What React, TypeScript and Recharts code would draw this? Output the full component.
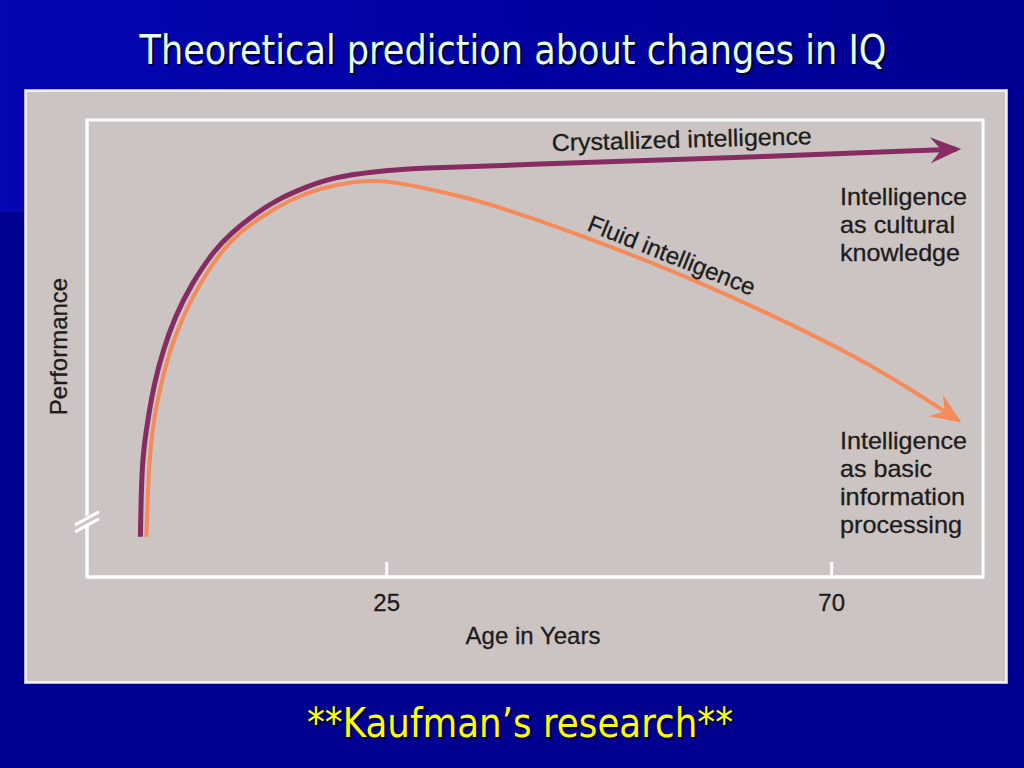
import React from "react";
import { LineChart, Line, XAxis, YAxis, ReferenceArea, ReferenceDot } from "recharts";

// x axis: age in years (frame spans roughly -5 .. 85), y axis: performance 0..100 (arbitrary)
const AGE_MIN = -5.3;
const AGE_MAX = 85.3;
const AGE_TICKS = [25, 70];
const PERF_MIN = 0;
const PERF_MAX = 100;
const BREAK_AT = 12.5;

const crystAge = [0.1, 0.2, 0.4, 0.9, 1.5, 2.4, 3.6, 5.3, 7.6, 9.3, 11.3, 13.8, 16.9, 19.5, 23.6, 28.3, 38.4, 56.7, 82.6];
const crystPerf = [8.8, 20.6, 27.8, 35.1, 42.4, 49.7, 57.0, 64.3, 71.6, 75.3, 78.8, 82.5, 85.4, 87.4, 88.7, 89.5, 90.2, 91.5, 93.6];

const fluidAge = [0.7, 0.9, 1.1, 1.5, 2.2, 3.1, 4.4, 6.1, 8.4, 10.1, 12.3, 15.2, 18.2, 21.6, 24.3, 28.3, 33.4, 38.4, 51.4, 63.0, 74.6, 82.7];
const fluidPerf = [8.8, 20.6, 27.8, 35.1, 42.4, 49.7, 57.0, 64.3, 71.6, 75.3, 78.8, 82.5, 85.1, 86.5, 86.9, 85.4, 82.9, 79.6, 69.4, 58.4, 46.0, 34.4];

const crystData = crystAge.map((age, i) => ({ age, v: crystPerf[i] }));
const fluidData = fluidAge.map((age, i) => ({ age, v: fluidPerf[i] }));

const PURPLE = "#872b63";
const ORANGE = "#f58b5b";
const INK = "#1c1c1c";
const SANS = "'Liberation Sans', Arial, Helvetica, sans-serif";

function AgeTick(props: any) {
  const { x, y, payload } = props;
  return (
    <g>
      <line x1={x} y1={y} x2={x} y2={y - 15} stroke="#fff" strokeWidth={3} />
      <text x={x} y={y + 34} textAnchor="middle" fontSize={24} fill={INK} stroke={INK} strokeWidth={0.3} fontFamily={SANS}>
        {payload.value}
      </text>
    </g>
  );
}

function AxisBreak(props: any) {
  const { cx, cy } = props;
  return (
    <g>
      <polygon
        points={`${cx - 5},${cy + 7} ${cx + 5},${cy + 2} ${cx + 5},${cy - 7} ${cx - 5},${cy - 2}`}
        fill="#ccc4c2"
      />
      <line x1={cx - 12} y1={cy + 5} x2={cx + 12} y2={cy - 8} stroke="#fff" strokeWidth={3} />
      <line x1={cx - 12} y1={cy + 12} x2={cx + 12} y2={cy - 1} stroke="#fff" strokeWidth={3} />
    </g>
  );
}

export default function App() {
  return (
    <div
      style={{
        position: "absolute",
        left: 0,
        top: 0,
        width: 1024,
        height: 768,
        overflow: "hidden",
        background: "#000090",
      }}
    >
      <div
        style={{
          position: "absolute",
          left: 0,
          top: 0,
          width: 1024,
          height: 212,
          background: "linear-gradient(to right, #0606b2 0%, #0202a4 40%, #000092 100%)",
        }}
      />
      <div
        style={{
          position: "absolute",
          left: 24,
          top: 89,
          width: 982,
          height: 593,
          background: "#ccc4c2",
          border: "1px solid #b0b0e6",
          boxShadow: "inset 0 0 0 2px #f3efef",
        }}
      />

      <svg width={0} height={0} style={{ position: "absolute" }}>
        <defs>
          <marker
            id="arrowPurple"
            viewBox="-32 -14 33 28"
            refX={-5}
            refY={0}
            markerWidth={33}
            markerHeight={28}
            markerUnits="userSpaceOnUse"
            orient="auto"
            overflow="visible"
          >
            <path d="M0,0 L-31,-13 L-20,0 L-31,13 Z" fill={PURPLE} />
          </marker>
          <marker
            id="arrowOrange"
            viewBox="-32 -14 33 28"
            refX={-5}
            refY={0}
            markerWidth={33}
            markerHeight={28}
            markerUnits="userSpaceOnUse"
            orient="auto"
            overflow="visible"
          >
            <path d="M0,0 L-31,-13 L-20,0 L-31,13 Z" fill={ORANGE} />
          </marker>
        </defs>
      </svg>

      <div style={{ position: "absolute", left: 0, top: 0 }}>
        <LineChart width={1024} height={768} margin={{ top: 120, right: 41, bottom: 111, left: 27 }}>
          <XAxis
            dataKey="age"
            type="number"
            domain={[AGE_MIN, AGE_MAX]}
            ticks={AGE_TICKS}
            height={80}
            axisLine={{ stroke: "#fff", strokeWidth: 3 }}
            tickLine={false}
            tickSize={0}
            tickMargin={0}
            tick={<AgeTick />}
            label={(p: any) => {
              const vb = p.viewBox;
              return (
                <text
                  x={vb.x + vb.width / 2 - 2}
                  y={vb.y + 67}
                  textAnchor="middle"
                  fontSize={24}
                  fill={INK}
                  stroke={INK}
                  strokeWidth={0.3}
                  fontFamily={SANS}
                >
                  Age in Years
                </text>
              );
            }}
          />
          <YAxis
            type="number"
            domain={[PERF_MIN, PERF_MAX]}
            width={60}
            axisLine={{ stroke: "#fff", strokeWidth: 3 }}
            tick={false}
            tickLine={false}
            label={(p: any) => {
              const vb = p.viewBox;
              const cx = vb.x + 31;
              const cy = vb.y + vb.height / 2 - 2;
              return (
                <text
                  x={cx}
                  y={cy}
                  transform={`rotate(-90, ${cx}, ${cy})`}
                  textAnchor="middle"
                  dominantBaseline="central"
                  fontSize={24}
                  fill={INK}
                  stroke={INK}
                  strokeWidth={0.3}
                  fontFamily={SANS}
                >
                  Performance
                </text>
              );
            }}
          />
          <ReferenceArea
            x1={AGE_MIN}
            x2={AGE_MAX}
            y1={PERF_MIN}
            y2={PERF_MAX}
            fill="none"
            stroke="#fff"
            strokeWidth={3}
          />
          <ReferenceDot x={AGE_MIN} y={BREAK_AT} r={0} shape={<AxisBreak />} />
          <Line
            data={crystData}
            dataKey="v"
            type="basis"
            stroke={PURPLE}
            strokeWidth={5}
            dot={false}
            activeDot={false}
            markerEnd="url(#arrowPurple)"
            isAnimationActive={false}
          />
          <Line
            data={fluidData}
            dataKey="v"
            type="basis"
            stroke={ORANGE}
            strokeWidth={4}
            dot={false}
            activeDot={false}
            markerEnd="url(#arrowOrange)"
            isAnimationActive={false}
          />
        </LineChart>
      </div>

      <svg
        width={1024}
        height={768}
        style={{ position: "absolute", left: 0, top: 0, pointerEvents: "none" }}
      >
        <text x={515} y={66} textAnchor="middle" fontSize={40} fontFamily="'DejaVu Sans', Tahoma, sans-serif" fill="#00002a" textLength={747} lengthAdjust="spacingAndGlyphs">
          Theoretical prediction about changes in IQ
        </text>
        <text x={513} y={64} textAnchor="middle" fontSize={40} fontFamily="'DejaVu Sans', Tahoma, sans-serif" fill="#e4ffff" textLength={747} lengthAdjust="spacingAndGlyphs">
          Theoretical prediction about changes in IQ
        </text>

        <text x={522} y={739} textAnchor="middle" fontSize={40} fontFamily="'DejaVu Sans', Tahoma, sans-serif" fill="#00002a" textLength={426} lengthAdjust="spacingAndGlyphs">
          **Kaufman’s research**
        </text>
        <text x={520} y={737} textAnchor="middle" fontSize={40} fontFamily="'DejaVu Sans', Tahoma, sans-serif" fill="#ffff00" textLength={426} lengthAdjust="spacingAndGlyphs">
          **Kaufman’s research**
        </text>

        <g fontFamily={SANS} fontSize={24} fill={INK} stroke={INK} strokeWidth={0.3}>
          <text x={552} y={151} transform="rotate(-1.5, 552, 151)" textLength={260} lengthAdjust="spacingAndGlyphs">
            Crystallized intelligence
          </text>
          <text x={586} y={230} transform="rotate(21.7, 586, 230)" textLength={178} lengthAdjust="spacingAndGlyphs">
            Fluid intelligence
          </text>

          <text x={840} y={205} textLength={127} lengthAdjust="spacingAndGlyphs">Intelligence</text>
          <text x={840} y={233} textLength={115} lengthAdjust="spacingAndGlyphs">as cultural</text>
          <text x={840} y={261} textLength={120} lengthAdjust="spacingAndGlyphs">knowledge</text>

          <text x={840} y={449} textLength={127} lengthAdjust="spacingAndGlyphs">Intelligence</text>
          <text x={840} y={477} textLength={92} lengthAdjust="spacingAndGlyphs">as basic</text>
          <text x={840} y={505} textLength={125} lengthAdjust="spacingAndGlyphs">information</text>
          <text x={840} y={533} textLength={122} lengthAdjust="spacingAndGlyphs">processing</text>
        </g>
      </svg>
    </div>
  );
}
